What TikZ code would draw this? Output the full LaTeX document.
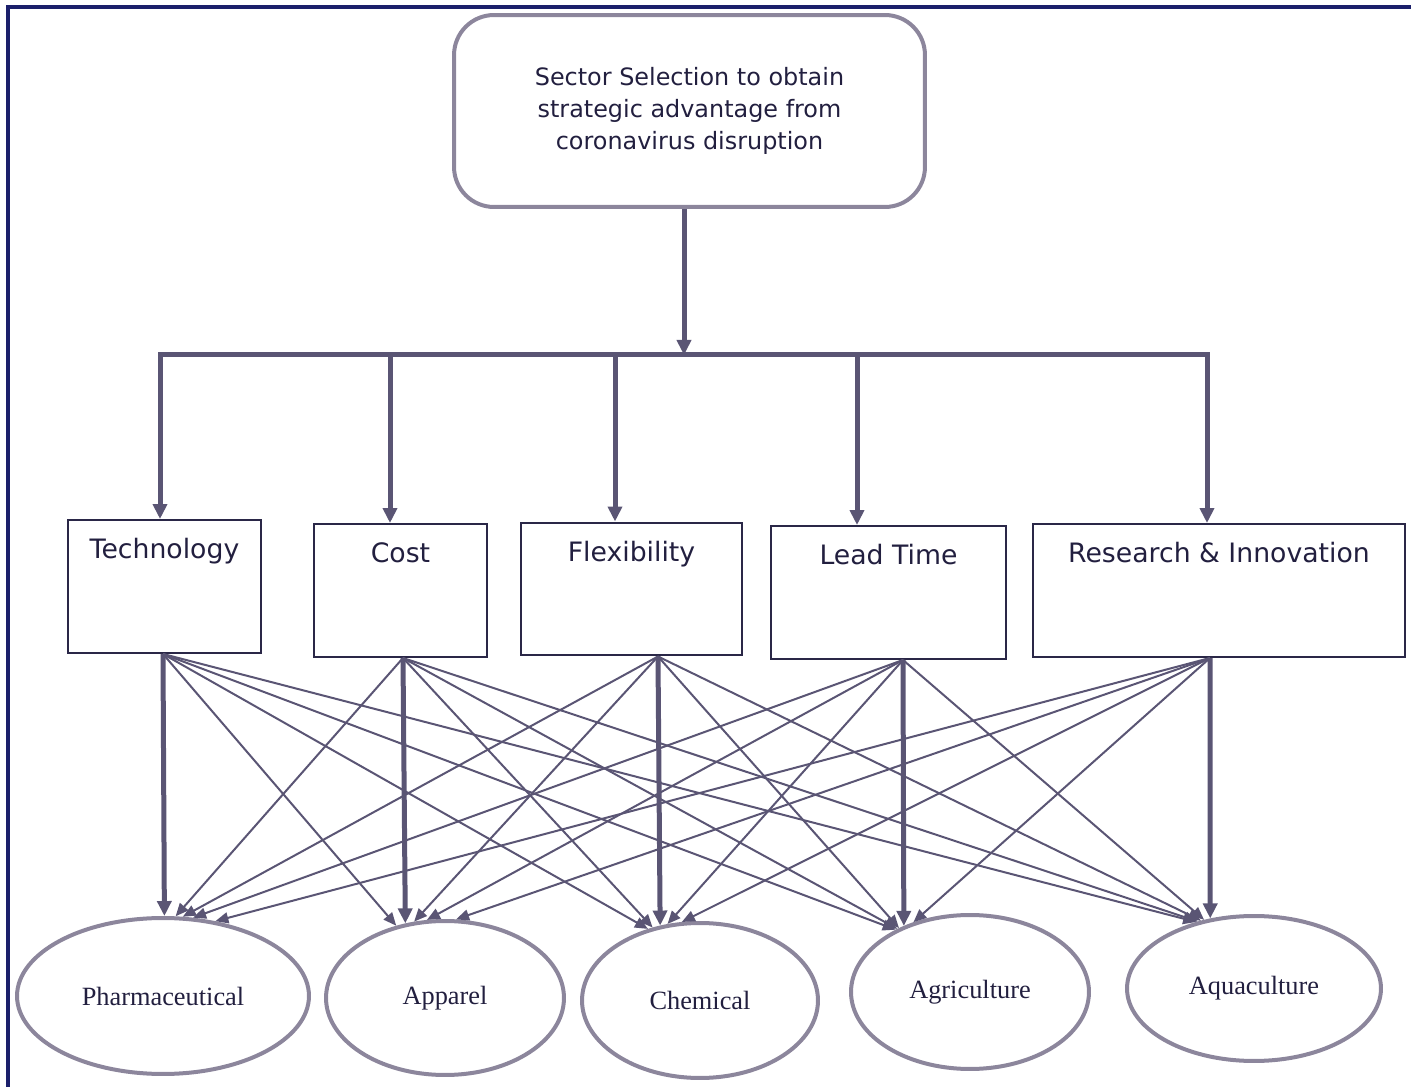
\documentclass[tikz,border=0pt]{standalone}
\usepackage{fontspec}
\setmainfont{Liberation Serif}
\newfontfamily\boxfont{DejaVu Sans}
\usetikzlibrary{arrows.meta,calc,shapes.geometric}
\definecolor{frameblue}{HTML}{1B1F6B}
\definecolor{linegray}{HTML}{8C869C}
\definecolor{arrowgray}{HTML}{5A5574}
\definecolor{boxline}{HTML}{2A2747}
\definecolor{textdark}{HTML}{221F3F}

\begin{document}
\begin{tikzpicture}[x=0.02cm,y=-0.02cm,
  topbox/.style={draw=linegray,line width=0.08cm,rounded corners=0.8cm,minimum width=9.42cm,minimum height=3.84cm,align=center,text=textdark,font=\boxfont\fontsize{13.6}{18.4}\selectfont},
  critbox/.style={draw=boxline,line width=0.04cm,minimum height=2.66cm},
  crittext/.style={text=textdark,font=\boxfont\fontsize{15.2}{18}\selectfont,anchor=north,yshift=-0.26cm},
  sector/.style={ellipse,draw=linegray,line width=0.08cm,text=textdark,font=\fontsize{15}{18}\selectfont},
  main/.style={draw=arrowgray,line width=0.1cm,-{Triangle[length=0.3cm,width=0.28cm]}},
  feed/.style={draw=arrowgray,line width=0.1cm,-{Triangle[length=0.3cm,width=0.28cm]}},
  link/.style={draw=arrowgray,line width=0.04cm,-{Triangle[length=0.26cm,width=0.22cm]}}]
\useasboundingbox (0,0) rectangle (1411,1087);
\draw[frameblue,line width=0.07cm] (8,1087) -- (8,7) -- (1411,7);

\node[topbox] (top) at (689.5,111) {Sector Selection to obtain\\strategic advantage from\\coronavirus disruption};

\node[critbox,minimum width=3.86cm] (tech) at (164.5,586.5) {};
\node[critbox,minimum width=3.46cm] (cost) at (400.5,590.5) {};
\node[critbox,minimum width=4.42cm] (flex) at (631.5,589) {};
\node[critbox,minimum width=4.70cm] (lead) at (888.5,592.5) {};
\node[critbox,minimum width=7.44cm] (res) at (1219,590.5) {};
\foreach \b/\t in {tech/Technology,cost/Cost,flex/Flexibility,lead/Lead Time,res/Research \& Innovation}
  \node[crittext] (\b-text) at (\b.north) {\t};

\node[sector,minimum width=5.84cm,minimum height=3.12cm] (pharma) at (163,996) {Pharmaceutical};
\node[sector,minimum width=4.76cm,minimum height=3.08cm] (apparel) at (445,998) {Apparel};
\node[sector,minimum width=4.72cm,minimum height=3.10cm] (chem) at (700,1000.5) {Chemical};
\node[sector,minimum width=4.76cm,minimum height=3.08cm] (agri) at (970,992) {Agriculture};
\node[sector,minimum width=5.08cm,minimum height=2.90cm] (aqua) at (1254,988.5) {Aquaculture};

\coordinate (bar) at (0,355);
\coordinate (drop) at ($(top.south)+(-5.5,0)$);
\foreach \b/\d in {tech/-4.5,cost/-10.5,flex/-16.5,lead/-31.5,res/-12}
  \coordinate (\b-in) at ($(\b.north)+(\d,0)$);
\foreach \b/\d in {tech/-1.5,cost/2.5,flex/26.5,lead/14.5,res/-9}
  \coordinate (\b-out) at ($(\b.south)+(\d,0)$);

\draw[main] (drop) -- (drop |- bar);
\draw[arrowgray,line width=0.1cm,line cap=rect] (tech-in |- bar) -- (res-in |- bar);
\foreach \b in {tech,cost,flex,lead,res}
  \draw[main] (\b-in |- bar) -- (\b-in);

\foreach \b/\s/\a in {tech/apparel/124,tech/chem/126,tech/agri/140,tech/aqua/131,
  cost/pharma/81,cost/chem/123,cost/agri/139,cost/aqua/130,
  flex/pharma/76,flex/apparel/112,flex/agri/138,flex/aqua/128,
  lead/pharma/69,lead/apparel/103,lead/chem/113,lead/aqua/126,
  res/pharma/55,res/apparel/82,res/chem/103,res/agri/129}
  \draw[link] (\b-out) -- (\s.\a);
\foreach \b/\s/\a in {tech/pharma/89,cost/apparel/118,flex/chem/118,lead/agri/135,res/aqua/122}
  \draw[feed] (\b-out) -- (\s.\a);
\end{tikzpicture}
\end{document}
